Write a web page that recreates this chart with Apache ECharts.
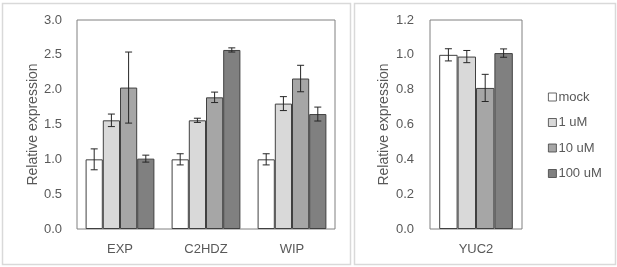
<!DOCTYPE html>
<html><head><meta charset="utf-8">
<script src="https://cdn.jsdelivr.net/npm/echarts@6/dist/echarts.min.js"></script>
<style>html,body{margin:0;padding:0;background:#fff}#c{width:617px;height:267px}</style>
</head><body><div id="c"></div>
<script>
const categoriesLeft = ['EXP', 'C2HDZ', 'WIP'];
const categoriesRight = ['YUC2'];
const seriesNames = ['mock', '1 uM', '10 uM', '100 uM'];
const colors = ['#ffffff', '#d9d9d9', '#a6a6a6', '#808080'];
// values per treatment, left panel (EXP, C2HDZ, WIP)
const mockLeft = [1.00, 1.00, 1.00];
const uM1Left = [1.56, 1.56, 1.80];
const uM10Left = [2.03, 1.89, 2.16];
const uM100Left = [1.01, 2.57, 1.65];
// error (± half-width)
const mockLeftErr = [0.15, 0.08, 0.08];
const uM1LeftErr = [0.09, 0.03, 0.10];
const uM10LeftErr = [0.51, 0.075, 0.19];
const uM100LeftErr = [0.05, 0.03, 0.10];
// right panel (YUC2)
const mockRight = [1.00];
const uM1Right = [0.99];
const uM10Right = [0.81];
const uM100Right = [1.01];
const mockRightErr = [0.035];
const uM1RightErr = [0.035];
const uM10RightErr = [0.078];
const uM100RightErr = [0.024];
const yTicksLeft = [0, 0.5, 1.0, 1.5, 2.0, 2.5, 3.0];
const yTicksRight = [0, 0.2, 0.4, 0.6, 0.8, 1.0, 1.2];

const leftVals = [mockLeft, uM1Left, uM10Left, uM100Left];
const leftErrs = [mockLeftErr, uM1LeftErr, uM10LeftErr, uM100LeftErr];
const rightVals = [mockRight, uM1Right, uM10Right, uM100Right];
const rightErrs = [mockRightErr, uM1RightErr, uM10RightErr, uM100RightErr];

const FONT = 'Liberation Sans';
const txt = '#595959';
const chart = echarts.init(document.getElementById('c'), null, {renderer: 'canvas'});

function errSeries(vals, errs, axisIdx) {
  const data = [];
  vals.forEach((arr, s) => arr.forEach((v, i) => data.push([i, v, errs[s][i], s])));
  return {
    type: 'custom', xAxisIndex: axisIdx, yAxisIndex: axisIdx, z: 10, silent: true,
    encode: {x: 0, y: 1},
    data: data,
    renderItem: function (params, api) {
      const ci = api.value(0), v = api.value(1), e = api.value(2), s = api.value(3);
      const bandW = api.size([1, 0])[0];
      const barW = bandW * 0.8 / 4;
      const c = api.coord([ci, v]);
      const x = c[0] + (s - 1.5) * barW;
      const top = api.coord([ci, v + e])[1];
      const bot = api.coord([ci, v - e])[1];
      const cap = 3.5;
      const st = {stroke: '#262626', lineWidth: 1};
      return {type: 'group', children: [
        {type: 'line', shape: {x1: x, y1: top, x2: x, y2: bot}, style: st},
        {type: 'line', shape: {x1: x - cap, y1: top, x2: x + cap, y2: top}, style: st},
        {type: 'line', shape: {x1: x - cap, y1: bot, x2: x + cap, y2: bot}, style: st}
      ]};
    }
  };
}

function barSeries(vals, axisIdx) {
  return vals.map((arr, s) => ({
    type: 'bar', name: seriesNames[s], xAxisIndex: axisIdx, yAxisIndex: axisIdx,
    data: arr, barGap: '0%', barCategoryGap: '20%',
    itemStyle: {color: colors[s], borderColor: '#404040', borderWidth: 1},
    emphasis: {disabled: true}
  }));
}

function yAxis(idx, max, interval, margin, nameGap) {
  return {
    type: 'value', gridIndex: idx, min: 0, max: max, interval: interval,
    name: 'Relative expression', nameLocation: 'middle', nameGap: nameGap,
    nameMoveOverlap: false,
    nameTextStyle: {fontFamily: FONT, fontSize: 14, color: txt},
    axisLine: {show: false}, axisTick: {show: false}, splitLine: {show: false},
    axisLabel: {fontFamily: FONT, fontSize: 13, color: txt, margin: margin,
      formatter: v => v.toFixed(1)}
  };
}
function xAxis(idx, cats) {
  return {
    type: 'category', gridIndex: idx, data: cats,
    axisLine: {show: false}, axisTick: {show: false}, splitLine: {show: false},
    axisLabel: {fontFamily: FONT, fontSize: 13, color: txt, margin: 14}
  };
}

chart.setOption({
  animation: false,
  backgroundColor: '#ffffff',
  graphic: [
    {type: 'rect', shape: {x: 2.5, y: 3.5, width: 348, height: 261}, style: {fill: 'none', stroke: '#d9d9d9', lineWidth: 1.5}},
    {type: 'rect', shape: {x: 354.5, y: 3.5, width: 261, height: 261}, style: {fill: 'none', stroke: '#d9d9d9', lineWidth: 1.5}}
  ],
  grid: [
    {left: 77, top: 20, width: 258, height: 209, show: true, borderColor: '#808080', borderWidth: 1, backgroundColor: 'transparent'},
    {left: 430, top: 20, width: 92, height: 209, show: true, borderColor: '#808080', borderWidth: 1, backgroundColor: 'transparent'}
  ],
  legend: {
    orient: 'vertical', left: 543, top: 85, itemWidth: 8, itemHeight: 8, itemGap: 11.5,
    icon: 'rect', data: seriesNames,
    itemStyle: {borderWidth: 0.8},
    textStyle: {fontFamily: FONT, fontSize: 13, color: txt, lineHeight: 14, padding: [0, 0, 0, -3]},
    selectedMode: false
  },
  xAxis: [xAxis(0, categoriesLeft), xAxis(1, categoriesRight)],
  yAxis: [yAxis(0, 3, 0.5, 15, 37), yAxis(1, 1.2, 0.2, 16, 39)],
  series: [
    ...barSeries(leftVals, 0),
    ...barSeries(rightVals, 1),
    errSeries(leftVals, leftErrs, 0),
    errSeries(rightVals, rightErrs, 1)
  ]
});
</script></body></html>
